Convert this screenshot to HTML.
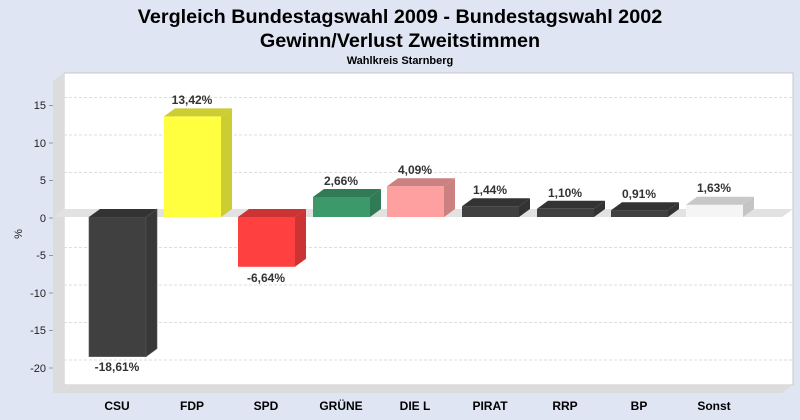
<!DOCTYPE html>
<html><head><meta charset="utf-8"><style>html,body{margin:0;padding:0;background:#dfe5f3}svg{display:block;font-family:"Liberation Sans",Arial,sans-serif}</style></head><body>
<svg width="800" height="420" viewBox="0 0 800 420">
<rect width="800" height="420" fill="#dfe5f3"/>
<text x="400" y="23" font-size="19.8" font-weight="bold" text-anchor="middle" fill="#000">Vergleich Bundestagswahl 2009 - Bundestagswahl 2002</text>
<text x="400" y="47" font-size="19.8" font-weight="bold" text-anchor="middle" fill="#000">Gewinn/Verlust Zweitstimmen</text>
<text x="400" y="64" font-size="11" font-weight="bold" text-anchor="middle" fill="#000">Wahlkreis Starnberg</text>
<rect x="64" y="73" width="729" height="312" fill="#fff" stroke="#c8c8c8" stroke-width="1"/>
<polygon points="53,81 64,73 64,385 53,393" fill="#dcdcdc"/>
<polygon points="53,393 64,385 793,385 782,393" fill="#dcdcdc"/>
<g stroke="#dedede" stroke-dasharray="3,2" stroke-width="1">
<line x1="64" x2="793" y1="97.5" y2="97.5"/><line x1="64" x2="793" y1="135" y2="135"/><line x1="64" x2="793" y1="172.5" y2="172.5"/>
<line x1="64" x2="793" y1="247.5" y2="247.5"/><line x1="64" x2="793" y1="285" y2="285"/><line x1="64" x2="793" y1="322.5" y2="322.5"/><line x1="64" x2="793" y1="360" y2="360"/>
</g>
<polygon points="53,217 64,209 793,209 782,217" fill="#e2e2e2"/>
<g stroke="#999" stroke-width="1">
<line x1="49" x2="53" y1="105.5" y2="105.5"/><line x1="49" x2="53" y1="143" y2="143"/><line x1="49" x2="53" y1="180.5" y2="180.5"/><line x1="49" x2="53" y1="218" y2="218"/><line x1="49" x2="53" y1="255.5" y2="255.5"/><line x1="49" x2="53" y1="293" y2="293"/><line x1="49" x2="53" y1="330.5" y2="330.5"/><line x1="49" x2="53" y1="368" y2="368"/>
</g>
<g font-size="11" text-anchor="end" fill="#222">
<text x="46" y="109">15</text><text x="46" y="147">10</text><text x="46" y="184">5</text><text x="46" y="222">0</text><text x="46" y="259">-5</text><text x="46" y="297">-10</text><text x="46" y="334">-15</text><text x="46" y="372">-20</text>
</g>
<text transform="translate(22,234) rotate(-90)" font-size="11" text-anchor="middle" fill="#222">%</text>
<g stroke-width="0.6">
<rect x="89" y="217" width="57" height="139.6" fill="#404040" stroke="#555"/>
<polygon points="89,217 100,209 157,209 146,217" fill="#333"/>
<polygon points="146,217 157,209 157,348.6 146,356.6" fill="#383838" stroke="#555"/>
<rect x="164" y="116.4" width="57" height="100.6" fill="#ffff40"/>
<polygon points="164,116.4 175,108.4 232,108.4 221,116.4" fill="#cccc33"/>
<polygon points="221,116.4 232,108.4 232,209 221,217" fill="#cccc33"/>
<rect x="238" y="217" width="57" height="49.8" fill="#ff4040"/>
<polygon points="238,217 249,209 306,209 295,217" fill="#cc3333"/>
<polygon points="295,217 306,209 306,258.8 295,266.8" fill="#cc3333"/>
<rect x="313" y="197" width="57" height="20" fill="#3c9a6a"/>
<polygon points="313,197 324,189 381,189 370,197" fill="#307b55"/>
<polygon points="370,197 381,189 381,209 370,217" fill="#307b55"/>
<rect x="387" y="186.3" width="57" height="30.7" fill="#ffa0a0"/>
<polygon points="387,186.3 398,178.3 455,178.3 444,186.3" fill="#cc8080"/>
<polygon points="444,186.3 455,178.3 455,209 444,217" fill="#cc8080"/>
<rect x="462" y="206.2" width="57" height="10.8" fill="#404040"/>
<polygon points="462,206.2 473,198.2 530,198.2 519,206.2" fill="#333"/>
<polygon points="519,206.2 530,198.2 530,209 519,217" fill="#333"/>
<rect x="537" y="208.8" width="57" height="8.2" fill="#404040"/>
<polygon points="537,208.8 548,200.8 605,200.8 594,208.8" fill="#333"/>
<polygon points="594,208.8 605,200.8 605,209 594,217" fill="#333"/>
<rect x="611" y="210.2" width="57" height="6.8" fill="#404040"/>
<polygon points="611,210.2 622,202.2 679,202.2 668,210.2" fill="#333"/>
<polygon points="668,210.2 679,202.2 679,209 668,217" fill="#333"/>
<rect x="686" y="204.8" width="57" height="12.2" fill="#f5f5f5"/>
<polygon points="686,204.8 697,196.8 754,196.8 743,204.8" fill="#c8c8c8"/>
<polygon points="743,204.8 754,196.8 754,209 743,217" fill="#c4c4c4"/>
</g>
<g font-size="12" font-weight="bold" text-anchor="middle" fill="#333">
<text x="117" y="371">-18,61%</text>
<text x="192" y="104">13,42%</text>
<text x="266" y="282">-6,64%</text>
<text x="341" y="185">2,66%</text>
<text x="415" y="174">4,09%</text>
<text x="490" y="194">1,44%</text>
<text x="565" y="197">1,10%</text>
<text x="639" y="198">0,91%</text>
<text x="714" y="192">1,63%</text>
</g>
<g font-size="12" font-weight="bold" text-anchor="middle" fill="#000">
<text x="117" y="410">CSU</text><text x="192" y="410">FDP</text><text x="266" y="410">SPD</text><text x="341" y="410">GRÜNE</text><text x="415" y="410">DIE L</text><text x="490" y="410">PIRAT</text><text x="565" y="410">RRP</text><text x="639" y="410">BP</text><text x="714" y="410">Sonst</text>
</g>
</svg>
</body></html>
